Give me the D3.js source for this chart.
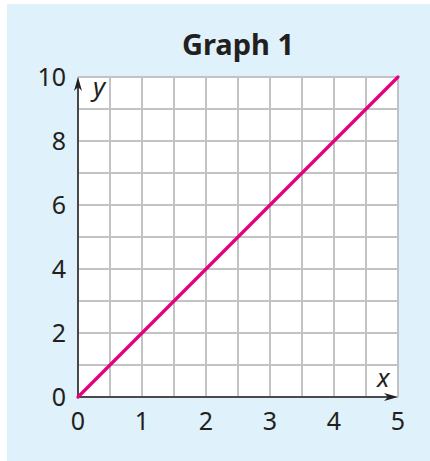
<!DOCTYPE html>
<html><head><meta charset="utf-8">
<script src="https://cdn.jsdelivr.net/npm/d3@7"></script>
<style>body{margin:0;background:#fff}svg{display:block}</style>
</head><body>
<script>
const title = "Graph 1";
const xTicks = [0,1,2,3,4,5];
const yTicks = [0,2,4,6,8,10];
const xGrid = [0,0.5,1,1.5,2,2.5,3,3.5,4,4.5,5];
const yGrid = [0,1,2,3,4,5,6,7,8,9,10];
const lineX = [0,5];
const lineY = [0,10];

const W=430,H=461;
const svg=d3.select("body").append("svg").attr("width",W).attr("height",H);
svg.append("rect").attr("x",7).attr("y",4).attr("width",W-7).attr("height",H-4).attr("fill","#dff1fa");
const x=d3.scaleLinear().domain([0,5]).range([78,398]);
const y=d3.scaleLinear().domain([0,10]).range([397,77]);
svg.append("rect").attr("x",x(0)).attr("y",y(10)).attr("width",x(5)-x(0)).attr("height",y(0)-y(10)).attr("fill","#fff");
const g=svg.append("g");
g.selectAll(".vg").data(xGrid).join("line").attr("x1",d=>x(d)).attr("x2",d=>x(d)).attr("y1",y(0)).attr("y2",y(10)).attr("stroke","#c2c3c7").attr("stroke-width",2);
g.selectAll(".hg").data(yGrid).join("line").attr("y1",d=>y(d)).attr("y2",d=>y(d)).attr("x1",x(0)).attr("x2",x(5)).attr("stroke","#c2c3c7").attr("stroke-width",2);
const ax="#231f20";
svg.append("line").attr("x1",x(0)).attr("x2",x(5)-8).attr("y1",y(0)).attr("y2",y(0)).attr("stroke",ax).attr("stroke-width",1.5);
svg.append("line").attr("x1",x(0)).attr("x2",x(0)).attr("y1",y(0)).attr("y2",y(10)+8).attr("stroke",ax).attr("stroke-width",1.5);
svg.append("path").attr("d",`M${x(5)},${y(0)} L${x(5)-14},${y(0)-4} L${x(5)-10},${y(0)} L${x(5)-14},${y(0)+4}Z`).attr("fill",ax);
svg.append("path").attr("d",`M${x(0)},${y(10)} L${x(0)-4},${y(10)+14} L${x(0)},${y(10)+10} L${x(0)+4},${y(10)+14}Z`).attr("fill",ax);
svg.append("path").datum(lineX.map((d,i)=>[d,lineY[i]])).attr("d",d3.line().x(d=>x(d[0])).y(d=>y(d[1]))).attr("stroke","#e6007e").attr("stroke-width",3.2).attr("fill","none").attr("stroke-linecap","round");
const font="'Noto Sans', 'Open Sans', sans-serif";
svg.selectAll(".xt").data(xTicks).join("text").attr("x",d=>x(d)).attr("y",430).attr("text-anchor","middle").attr("font-family",font).attr("font-size",25).attr("fill",ax).text(d=>d);
svg.selectAll(".yt").data(yTicks).join("text").attr("x",66).attr("y",d=>y(d)+9).attr("text-anchor","end").attr("font-family",font).attr("font-size",25).attr("fill",ax).text(d=>d);
svg.append("text").attr("x",x(0)+15).attr("y",y(10)+19).attr("font-family",font).attr("font-style","italic").attr("font-size",26).attr("fill",ax).text("y");
svg.append("text").attr("x",x(5)-21).attr("y",y(0)-10).attr("font-family",font).attr("font-style","italic").attr("font-size",26).attr("fill",ax).text("x");
svg.append("text").attr("x",238).attr("y",55).attr("text-anchor","middle").attr("font-family",font).attr("font-weight","bold").attr("font-size",29).attr("fill",ax).text(title);
</script>
</body></html>
